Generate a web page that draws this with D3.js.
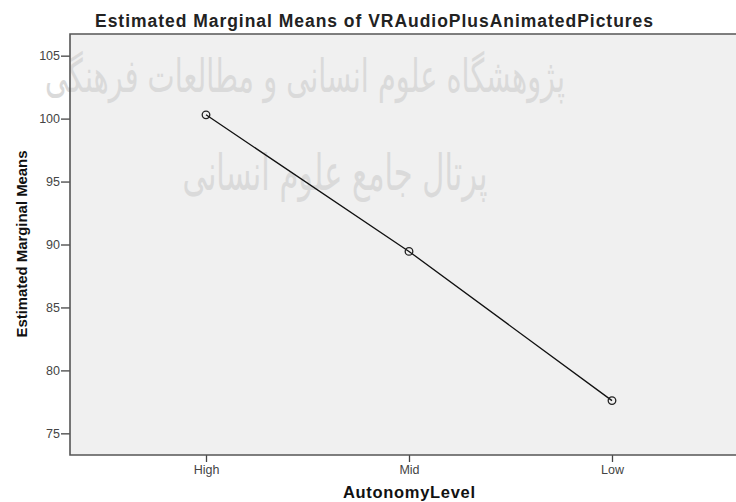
<!DOCTYPE html>
<meta charset="utf-8">
<html>
<head>
  <title>Estimated Marginal Means</title>
  <script src="https://d3js.org/d3.v7.min.js"></script>
  <style>
    body { margin: 0; background: #fff; }
    text { font-family: "Liberation Sans", Arial, sans-serif; }
  </style>
</head>
<body>
<script>

// data
var levels = ["High", "Mid", "Low"];
var means = [100.3, 89.45, 77.6];
var yTicks = [75, 80, 85, 90, 95, 100, 105];
var watermarkLines = ["پژوهشگاه علوم انسانی و مطالعات فرهنگی", "پرتال جامع علوم انسانی"];

var width = 736, height = 502;
// plot box; right edge runs past the window like in the original export
var plotLeft = 70, plotTop = 34, plotBottom = 455, plotRight = 748;

var svg = d3.select("body").append("svg")
    .attr("width", width)
    .attr("height", height);

var x = d3.scalePoint()
    .domain(levels)
    .range([plotLeft, plotRight])
    .padding(0.67);

var y = d3.scaleLinear()
    .domain([73.28, 106.72])
    .range([plotBottom, plotTop]);

// plot background
svg.append("rect")
    .attr("x", plotLeft)
    .attr("y", plotTop)
    .attr("width", plotRight - plotLeft)
    .attr("height", plotBottom - plotTop)
    .style("fill", "#f0f0f0");

// faint watermark
var wm = svg.append("g").style("pointer-events", "none");
wm.append("text")
    .attr("x", 305).attr("y", 92)
    .attr("text-anchor", "middle")
    .attr("textLength", 520)
    .attr("lengthAdjust", "spacingAndGlyphs")
    .style("font-family", "DejaVu Sans")
    .style("font-size", "46px")
    .style("fill", "#dadada")
    .text(watermarkLines[0]);
wm.append("text")
    .attr("x", 335).attr("y", 190)
    .attr("text-anchor", "middle")
    .attr("textLength", 305)
    .attr("lengthAdjust", "spacingAndGlyphs")
    .style("font-family", "DejaVu Sans")
    .style("font-size", "50px")
    .style("fill", "#dadada")
    .text(watermarkLines[1]);

// axes
var yAxis = d3.axisLeft(y)
    .tickValues(yTicks)
    .tickSize(9)
    .tickPadding(1);

var gy = svg.append("g")
    .attr("transform", "translate(" + plotLeft + ",0)")
    .call(yAxis);
gy.select(".domain").remove();
gy.selectAll("line").style("stroke", "#444").style("stroke-width", 1.3);
gy.selectAll("text")
    .style("font-family", "'Liberation Sans', Arial, sans-serif")
    .style("font-size", "12.5px")
    .style("fill", "#444");

var xAxis = d3.axisBottom(x)
    .tickSize(7)
    .tickPadding(3);

var gx = svg.append("g")
    .attr("transform", "translate(0," + plotBottom + ")")
    .call(xAxis);
gx.select(".domain").remove();
gx.selectAll("line").style("stroke", "#444").style("stroke-width", 1.3);
gx.selectAll("text")
    .style("font-family", "'Liberation Sans', Arial, sans-serif")
    .style("font-size", "12.5px")
    .style("fill", "#444");

// frame (left, top, bottom)
svg.append("path")
    .attr("d", "M" + plotRight + "," + plotTop + "H" + plotLeft + "V" + plotBottom + "H" + plotRight)
    .style("fill", "none")
    .style("stroke", "#555")
    .style("stroke-width", 1.6);

// the line and its markers
var line = d3.line()
    .x(function(d, i) { return x(levels[i]); })
    .y(function(d) { return y(d); });

svg.append("path")
    .datum(means)
    .attr("d", line)
    .style("fill", "none")
    .style("stroke", "#111")
    .style("stroke-width", 1.3);

svg.selectAll("circle.pt")
    .data(means)
  .enter().append("circle")
    .attr("class", "pt")
    .attr("cx", function(d, i) { return x(levels[i]); })
    .attr("cy", function(d) { return y(d); })
    .attr("r", 3.8)
    .style("fill", "none")
    .style("stroke", "#222")
    .style("stroke-width", 1.3);

// titles
svg.append("text")
    .attr("x", 374).attr("y", 27)
    .attr("text-anchor", "middle")
    .attr("textLength", 558)
    .style("font-size", "17.5px")
    .style("font-weight", "bold")
    .style("fill", "#222")
    .text("Estimated Marginal Means of VRAudioPlusAnimatedPictures");

svg.append("text")
    .attr("transform", "translate(27,244) rotate(-90)")
    .attr("text-anchor", "middle")
    .attr("textLength", 187)
    .attr("lengthAdjust", "spacingAndGlyphs")
    .style("font-size", "15px")
    .style("font-weight", "bold")
    .style("fill", "#111")
    .text("Estimated Marginal Means");

svg.append("text")
    .attr("x", 409).attr("y", 498)
    .attr("text-anchor", "middle")
    .attr("textLength", 132)
    .style("font-size", "16.5px")
    .style("font-weight", "bold")
    .style("fill", "#111")
    .text("AutonomyLevel");

</script>
</body>
</html>
